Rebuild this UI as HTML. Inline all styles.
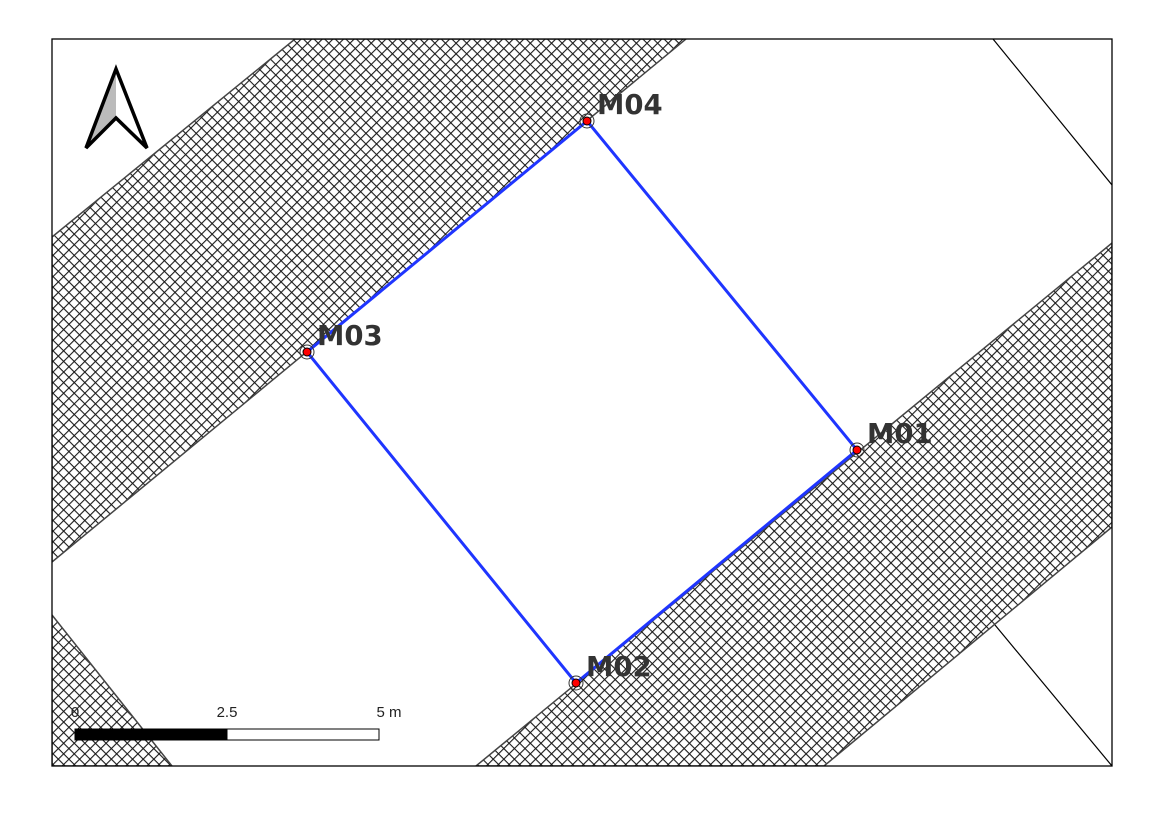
<!DOCTYPE html>
<html><head><meta charset="utf-8"><style>
html,body{margin:0;padding:0;background:#fff;}
svg{display:block;font-family:"Liberation Sans","DejaVu Sans",sans-serif;}
</style></head><body>
<svg width="1169" height="826" viewBox="0 0 1169 826">
<defs>
<pattern id="hatch" patternUnits="userSpaceOnUse" width="7.5" height="7.5" patternTransform="rotate(45)">
<rect width="7.5" height="7.5" fill="#fff"/>
<line x1="0" y1="0" x2="0" y2="7.5" stroke="#1a1a1a" stroke-width="2.2"/>
<line x1="0" y1="0" x2="7.5" y2="0" stroke="#1a1a1a" stroke-width="2.2"/>
</pattern>
<clipPath id="frame"><rect x="52" y="39" width="1060" height="727"/></clipPath>
</defs>
<rect x="0" y="0" width="1169" height="826" fill="#fff"/>
<g clip-path="url(#frame)" id="layers">
<polygon points="52,237 295,39 686,39 52,562" fill="url(#hatch)" stroke="#444" stroke-width="1.5"/>
<polygon points="476,766 1112,243 1112,527 824,766" fill="url(#hatch)" stroke="#444" stroke-width="1.5"/>
<polygon points="52,615 172,766 52,766" fill="url(#hatch)" stroke="#444" stroke-width="1.5"/>
<line x1="993" y1="39" x2="1112" y2="185" stroke="#000" stroke-width="1.2"/>
<line x1="995" y1="625" x2="1112" y2="766" stroke="#000" stroke-width="1.2"/>
</g>
<rect x="52" y="39" width="1060" height="727" fill="none" stroke="#000" stroke-width="1.3"/>
<g id="survey"></g>
<g>
<polygon points="116,69 116,118 86,148" fill="#bbb"/>
<polygon points="116,69 147,148 116,118 86,148" fill="none" stroke="#000" stroke-width="3.5" stroke-linejoin="miter"/>
</g>
<g>
<rect x="75" y="729" width="152" height="11" fill="#000" stroke="#000"/>
<rect x="227" y="729" width="152" height="11" fill="#fff" stroke="#000"/>
<text x="75" y="717" font-size="15" text-anchor="middle" fill="#222">0</text>
<text x="227" y="717" font-size="15" text-anchor="middle" fill="#222">2.5</text>
<text x="389" y="717" font-size="15" text-anchor="middle" fill="#222">5 m</text>
</g>
</svg>
<script>
const names=["M04","M01","M02","M03"];
const px=[587,857,576,307];
const py=[121,450,683,352];
const ns="http://www.w3.org/2000/svg";
const g=document.getElementById("survey");
const poly=document.createElementNS(ns,"polygon");


poly.setAttribute("points",px.map((x,i)=>x+","+py[i]).join(" "));
poly.setAttribute("fill","none");poly.setAttribute("stroke","#1f35ff");poly.setAttribute("stroke-width","3");
g.appendChild(poly);
names.forEach((n,i)=>{
 const ring=document.createElementNS(ns,"circle");
 
 
 ring.setAttribute("cx",px[i]);ring.setAttribute("cy",py[i]);ring.setAttribute("r",7);
 ring.setAttribute("fill","none");ring.setAttribute("stroke","#333");ring.setAttribute("stroke-width","1");
 g.appendChild(ring);
 const c=document.createElementNS(ns,"circle");
 
 
 c.setAttribute("cx",px[i]);c.setAttribute("cy",py[i]);c.setAttribute("r",4);
 c.setAttribute("fill","#f00");c.setAttribute("stroke","#000");c.setAttribute("stroke-width","1");
 g.appendChild(c);
 const t=document.createElementNS(ns,"text");
 
 
 t.setAttribute("x",px[i]+10);t.setAttribute("y",py[i]-7);
 t.setAttribute("font-size","27.5");t.setAttribute("font-weight","bold");t.setAttribute("fill","#333");
 t.setAttribute("font-family","'DejaVu Sans','Liberation Sans',sans-serif");
 t.textContent=n;
 g.appendChild(t);
});
</script>
</body></html>
